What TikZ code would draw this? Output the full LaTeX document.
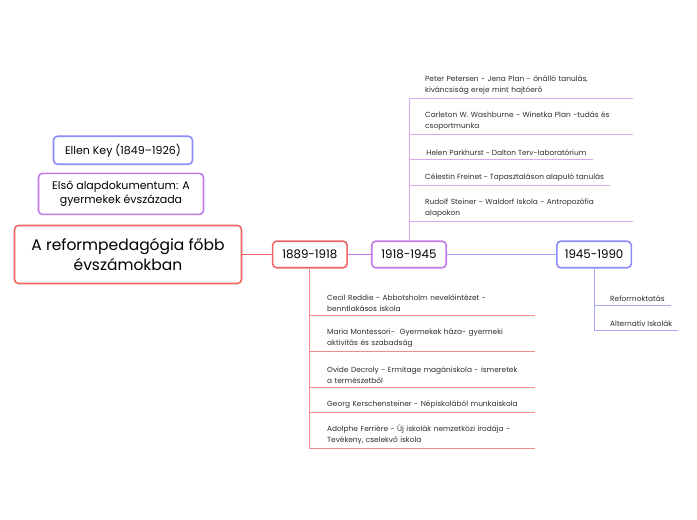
\documentclass[tikz,border=0pt]{standalone}
\usepackage{fontspec}
\setmainfont{Poppins}
\usetikzlibrary{positioning, calc}
\definecolor{RootRed}{RGB}{240,100,100}
\definecolor{MidPurple}{RGB}{196,122,230}
\definecolor{SoftBlue}{RGB}{140,140,250}
\definecolor{TextGray}{RGB}{45,45,45}

\begin{document}
\begin{tikzpicture}[x=1pt, y=1pt,
                    node distance=10pt,
                    topic/.style={rectangle, rounded corners=4pt, line width=1.6pt, fill=white, align=center, inner sep=0pt, font=\fontsize{11}{14}\selectfont},
                    period/.style={topic, minimum width=74.5pt, minimum height=26.5pt, font=\fontsize{11.8}{14}\selectfont},
                    item/.style={anchor=south west, align=left, inner xsep=6pt, inner ysep=3pt, text=TextGray, font=\fontsize{7.4}{11}\selectfont},
                    wideitem/.style={item, text width=202pt},
                    redline/.style={draw=RootRed!75, line width=0.8pt},
                    purpleline/.style={draw=MidPurple!65, line width=0.8pt},
                    blueline/.style={draw=SoftBlue!75, line width=0.8pt}
                ]
                    \useasboundingbox (0,0) rectangle (697,520);

                    \node[topic, draw=RootRed, minimum width=227pt, minimum height=58pt, font=\fontsize{15.5}{19.5}\selectfont] (root) at (128,265.5) {A reformpedagógia főbb\\évszámokban};
                    \node[period, draw=RootRed, right=29.5pt of root] (p1889) {1889-1918};
                    \node[period, draw=MidPurple, right=23pt of p1889] (p1918) {1918-1945};
                    \node[period, draw=SoftBlue, right=109pt of p1918] (p1945) {1945-1990};
                    \node[topic, draw=MidPurple, minimum width=165pt, minimum height=41pt, above=9.5pt of root, xshift=-7pt] (doc) {Első alapdokumentum: A\\gyermekek évszázada};
                    \node[topic, draw=SoftBlue, minimum width=139pt, minimum height=28pt, above=7.5pt of doc, xshift=2pt] (key) {Ellen Key (1849–1926)};

                    \node[wideitem] (petersen) at (419,422) {Peter Petersen - Jena Plan - önálló tanulás,\\kiváncsiság ereje mint hajtóerő};
                    \node[wideitem] (washburne) at (419,386) {Carleton W. Washburne - Winetka Plan -tudás és\\csoportmunka};
                    \node[item] (parkhurst) at (419,361) {\,Helen Parkhurst - Dalton Terv-laboratórium};
                    \node[item] (freinet) at (419,335) {Célestin Freinet - Tapasztaláson alapuló tanulás};
                    \node[wideitem] (steiner) at (419,299) {Rudolf Steiner - Waldorf Iskola - Antropozófia\\alapokon};

                    \node[wideitem] (reddie) at (321,205) {Cecil Reddie - Abbotsholm nevelőintézet -\\benntlakásos iskola};
                    \node[wideitem] (montessori) at (321,169) {Maria Montessori-~ Gyermekek háza- gyermeki\\aktivitás és szabadság};
                    \node[wideitem] (decroly) at (321,133) {Ovide Decroly - Ermitage magániskola - ismeretek\\a természetből};
                    \node[wideitem] (kersch) at (321,108) {Georg Kerschensteiner - Népiskolából munkaiskola};
                    \node[wideitem] (ferriere) at (321,72) {Adolphe Ferrière - Új iskolák nemzetközi irodája -\\Tevékeny, cselekvő iskola};

                    \node[item] (reform) at (604,215) {Reformoktatás};
                    \node[item] (altern) at (604,190) {Alternatív Iskolák};

                    \draw[draw=RootRed, line width=1.2pt] (root) -- (p1889);
                    \draw[draw=MidPurple, line width=1.2pt] (p1889) -- (p1918);
                    \draw[draw=SoftBlue!80, line width=1.2pt] (p1918) -- (p1945);

                    \foreach \t in {petersen, washburne, parkhurst, freinet, steiner}
                        \draw[purpleline] (p1918) |- (\t.south east);
                    \foreach \t in {reddie, montessori, decroly, kersch, ferriere}
                        \draw[redline] (p1889) |- (\t.south east);
                    \foreach \t in {reform, altern}
                        \draw[blueline] (p1945) |- (\t.south east);
                \end{tikzpicture}
\end{document}
